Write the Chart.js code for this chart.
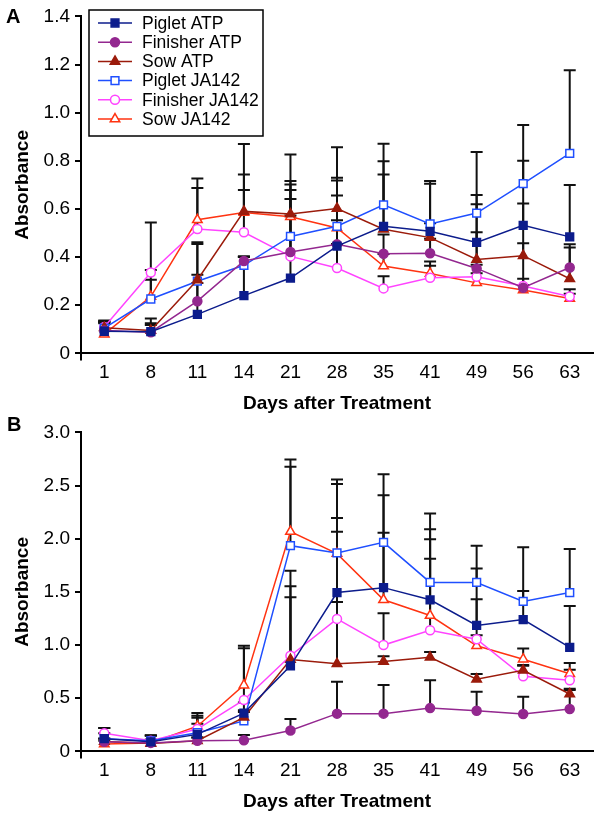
<!DOCTYPE html>
<html>
<head>
<meta charset="utf-8">
<script src="https://cdn.jsdelivr.net/npm/chart.js@4/dist/chart.umd.min.js"></script>
<style>
  body { margin: 0; width: 600px; height: 815px; background: #fff; position: relative; overflow: hidden; }
  .panel { position: absolute; left: 0; }
  .tag { position: absolute; font: bold 20px "Liberation Sans", Arial, sans-serif; color: #000; line-height: 23px; }
</style>
</head>
<body>
<div class="panel" style="top:0;"><canvas id="chartA" width="600" height="415"></canvas></div>
<div class="panel" style="top:416px;"><canvas id="chartB" width="600" height="397"></canvas></div>
<div class="tag" style="left:6px; top:5px;">A</div>
<div class="tag" style="left:7px; top:413px;">B</div>
<script>
const days = ["1", "8", "11", "14", "21", "28", "35", "41", "49", "56", "63"];

// Panel A
const pigletAtpA = [0.092, 0.09, 0.162, 0.24, 0.313, 0.446, 0.528, 0.507, 0.461, 0.532, 0.484];
const finisherAtpA = [0.095, 0.088, 0.217, 0.384, 0.421, 0.453, 0.414, 0.416, 0.353, 0.273, 0.357];
const sowAtpA = [0.107, 0.095, 0.305, 0.59, 0.579, 0.602, 0.516, 0.481, 0.39, 0.406, 0.31];
const pigletJaA = [0.105, 0.226, 0.3, 0.366, 0.486, 0.528, 0.617, 0.538, 0.583, 0.705, 0.831];
const finisherJaA = [0.11, 0.336, 0.517, 0.503, 0.403, 0.355, 0.27, 0.314, 0.318, 0.28, 0.236];
const sowJaA = [0.08, 0.236, 0.555, 0.585, 0.568, 0.521, 0.363, 0.332, 0.293, 0.263, 0.228];

const errPigletAtpA = [0.035, 0.055, 0.13, 0.16, 0.26, 0.21, 0.27, 0.198, 0.197, 0.268, 0.216];
const errFinisherAtpA = [0.03, 0.03, 0.11, 0.02, 0.22, 0.1, 0.08, 0.06, 0.15, 0.185, 0.096];
const errSowAtpA = [0.03, 0.03, 0.157, 0.28, 0.247, 0.254, 0.227, 0.06, 0.23, 0.217, 0.13];
const errPigletJaA = [0.03, 0.08, 0.155, 0.034, 0.216, 0.19, 0.254, 0.178, 0.254, 0.244, 0.345];
const errFinisherJaA = [0.02, 0.208, 0.17, 0.176, 0.276, 0.1, 0.05, 0.05, 0.05, 0.03, 0.03];
const errSowJaA = [0.05, 0.11, 0.172, 0.158, 0.148, 0.209, 0.05, 0.05, 0.04, 0.02, 0.02];

// Panel B
const pigletAtpB = [0.12, 0.09, 0.16, 0.36, 0.805, 1.494, 1.54, 1.426, 1.185, 1.24, 0.978];
const finisherAtpB = [0.09, 0.08, 0.1, 0.105, 0.197, 0.355, 0.355, 0.407, 0.382, 0.352, 0.398];
const sowAtpB = [0.092, 0.075, 0.1, 0.32, 0.864, 0.824, 0.845, 0.885, 0.679, 0.762, 0.54];
const pigletJaB = [0.12, 0.1, 0.176, 0.287, 1.935, 1.867, 1.966, 1.589, 1.589, 1.41, 1.494];
const finisherJaB = [0.17, 0.1, 0.21, 0.484, 0.9, 1.246, 1.0, 1.139, 1.055, 0.706, 0.669];
const sowJaB = [0.07, 0.08, 0.237, 0.623, 2.068, 1.86, 1.426, 1.278, 0.993, 0.867, 0.731];

const errPigletAtpB = [0.1, 0.06, 0.1, 0.1, 0.645, 0.7, 0.87, 0.663, 0.534, 0.269, 0.39];
const errFinisherAtpB = [0.03, 0.03, 0.03, 0.05, 0.108, 0.3, 0.27, 0.262, 0.18, 0.163, 0.18];
const errSowAtpB = [0.03, 0.03, 0.03, 0.05, 0.69, 0.58, 0.05, 0.05, 0.05, 0.05, 0.05];
const errPigletJaB = [0.05, 0.05, 0.141, 0.1, 0.741, 0.69, 0.64, 0.648, 0.346, 0.509, 0.41];
const errFinisherJaB = [0.05, 0.05, 0.126, 0.485, 0.8, 0.82, 0.3, 0.672, 0.375, 0.1, 0.1];
const errSowJaB = [0.03, 0.03, 0.123, 0.371, 0.676, 0.655, 0.63, 0.718, 0.1, 0.1, 0.1];

const FONT = '"Liberation Sans", Arial, sans-serif';

// series look, same in both panels
const styles = [
  { label: "Piglet ATP", color: "#0c1c8c", fill: "#0c1c8c", pointStyle: "rect", radius: 5.5 },
  { label: "Finisher ATP", color: "#93278f", fill: "#93278f", pointStyle: "circle", radius: 4.5 },
  { label: "Sow ATP", color: "#9b1b0b", fill: "#9b1b0b", pointStyle: "triangle", radius: 5.5 },
  { label: "Piglet JA142", color: "#1f4fff", fill: "#ffffff", pointStyle: "rect", radius: 5.5 },
  { label: "Finisher JA142", color: "#ff44ff", fill: "#ffffff", pointStyle: "circle", radius: 4.5 },
  { label: "Sow JA142", color: "#ff3311", fill: "#ffffff", pointStyle: "triangle", radius: 5.5 },
];

function createDataset(style, data, errors) {
  return {
    label: style.label,
    data: data,
    errors: errors,
    borderColor: style.color,
    backgroundColor: style.fill,
    borderWidth: 1.5,
    pointStyle: style.pointStyle,
    pointRadius: style.radius,
    pointBorderWidth: 1.5,
    pointBorderColor: style.color,
    pointBackgroundColor: style.fill,
    tension: 0,
  };
}

// upper error bars, drawn under the lines
const errorBars = {
  id: "errorBars",
  beforeDatasetsDraw(chart) {
    const ctx = chart.ctx;
    const y = chart.scales.y;
    ctx.save();
    ctx.strokeStyle = "#111";
    ctx.lineWidth = 2;
    chart.data.datasets.forEach((ds, i) => {
      chart.getDatasetMeta(i).data.forEach((pt, j) => {
        const top = y.getPixelForValue(ds.data[j] + ds.errors[j]);
        ctx.beginPath();
        ctx.moveTo(pt.x, pt.y);
        ctx.lineTo(pt.x, top);
        ctx.moveTo(pt.x - 6, top);
        ctx.lineTo(pt.x + 6, top);
        ctx.stroke();
      });
    });
    // y axis runs a little past the x axis
    const area = chart.chartArea;
    ctx.strokeStyle = "#000";
    ctx.beginPath();
    ctx.moveTo(area.left, area.bottom);
    ctx.lineTo(area.left, area.bottom + 7);
    ctx.stroke();
    ctx.restore();
  },
};

function drawMarker(ctx, ds, x, y) {
  const r = ds.pointRadius;
  ctx.beginPath();
  if (ds.pointStyle === "rect") {
    const h = r * Math.SQRT1_2;
    ctx.rect(x - h, y - h, 2 * h, 2 * h);
  } else if (ds.pointStyle === "circle") {
    ctx.arc(x, y, r, 0, Math.PI * 2);
  } else {
    ctx.moveTo(x, y - r);
    ctx.lineTo(x + r * Math.cos(Math.PI / 6), y + r / 2);
    ctx.lineTo(x - r * Math.cos(Math.PI / 6), y + r / 2);
    ctx.closePath();
  }
  ctx.fillStyle = ds.pointBackgroundColor;
  ctx.fill();
  ctx.strokeStyle = ds.pointBorderColor;
  ctx.lineWidth = ds.pointBorderWidth;
  ctx.stroke();
}

// boxed legend in the top left corner of panel A
const boxLegend = {
  id: "boxLegend",
  afterDraw(chart, args, opts) {
    if (!opts.show) return;
    const ctx = chart.ctx;
    ctx.save();
    ctx.fillStyle = "#fff";
    ctx.fillRect(opts.left, opts.top, opts.width, opts.height);
    ctx.strokeStyle = "#000";
    ctx.lineWidth = 1.5;
    ctx.strokeRect(opts.left, opts.top, opts.width, opts.height);
    chart.data.datasets.forEach((ds, i) => {
      const cy = opts.top + opts.firstRow + i * opts.rowGap;
      ctx.strokeStyle = ds.borderColor;
      ctx.lineWidth = ds.borderWidth;
      ctx.beginPath();
      ctx.moveTo(opts.left + 9, cy);
      ctx.lineTo(opts.left + 43, cy);
      ctx.stroke();
      drawMarker(ctx, ds, opts.left + 26, cy);
      ctx.fillStyle = "#000";
      ctx.font = "17.5px " + FONT;
      ctx.textBaseline = "middle";
      ctx.fillText(ds.label, opts.left + 53, cy + 1);
    });
    ctx.restore();
  },
};

function createPanel(canvasId, series, yMax, yStep, topPad, showLegend) {
  return new Chart(document.getElementById(canvasId), {
    type: "line",
    data: {
      labels: days,
      datasets: series.map((s, i) => createDataset(styles[i], s[0], s[1])),
    },
    plugins: [errorBars, boxLegend],
    options: {
      responsive: false,
      animation: false,
      layout: { padding: { top: topPad, right: 5, bottom: 0, left: 0 } },
      scales: {
        x: {
          offset: true,
          grid: { display: false, drawTicks: false },
          border: { display: true, color: "#000", width: 2 },
          ticks: { color: "#000", font: { family: FONT, size: 19 }, padding: 8, maxRotation: 0, autoSkip: false },
          title: {
            display: true,
            text: "Days after Treatment",
            color: "#000",
            font: { family: FONT, size: 19, weight: "bold" },
            padding: { top: 0, bottom: 0 },
          },
        },
        y: {
          min: 0,
          max: yMax,
          afterFit: (scale) => {
            scale.width = 81;
          },
          grid: { drawOnChartArea: false, drawTicks: true, tickLength: 6, color: "#000", lineWidth: 2 },
          border: { display: true, color: "#000", width: 2 },
          ticks: {
            stepSize: yStep,
            color: "#000",
            padding: 5,
            font: { family: FONT, size: 19 },
            callback: (v) => (v === 0 ? "0" : v.toFixed(1)),
          },
          title: {
            display: true,
            text: "Absorbance",
            color: "#000",
            font: { family: FONT, size: 19, weight: "bold" },
            padding: { top: 11, bottom: 0 },
          },
        },
      },
      plugins: {
        legend: { display: false },
        tooltip: { enabled: false },
        boxLegend: { show: showLegend, left: 89, top: 10, width: 174, height: 126, firstRow: 13, rowGap: 19.2 },
      },
    },
  });
}

createPanel("chartA", [
  [pigletAtpA, errPigletAtpA],
  [finisherAtpA, errFinisherAtpA],
  [sowAtpA, errSowAtpA],
  [pigletJaA, errPigletJaA],
  [finisherJaA, errFinisherJaA],
  [sowJaA, errSowJaA],
], 1.4, 0.2, 11, true);

createPanel("chartB", [
  [pigletAtpB, errPigletAtpB],
  [finisherAtpB, errFinisherAtpB],
  [sowAtpB, errSowAtpB],
  [pigletJaB, errPigletJaB],
  [finisherJaB, errFinisherJaB],
  [sowJaB, errSowJaB],
], 3.0, 0.5, 9, false);
</script>
</body>
</html>
